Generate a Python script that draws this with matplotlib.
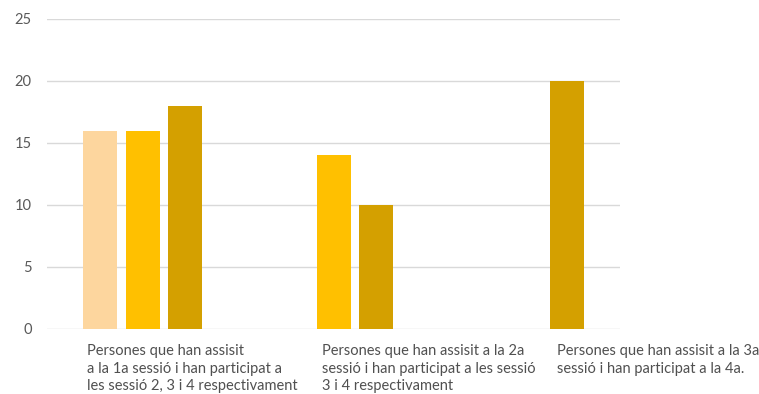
import numpy as np
import matplotlib.pyplot as plt

# data
categories = [
    "Persones que han assisit\na la 1a sessió i han participat a\nles sessió 2, 3 i 4 respectivament",
    "Persones que han assisit a la 2a\nsessió i han participat a les sessió\n3 i 4 respectivament",
    "Persones que han assisit a la 3a\nsessió i han participat a la 4a.",
]
sessio_2 = [16, np.nan, np.nan]
sessio_3 = [16, 14, np.nan]
sessio_4 = [18, 10, 20]

colors = ["#FDD69E", "#FFC000", "#D4A000"]
series = [sessio_2, sessio_3, sessio_4]

fig = plt.figure(figsize=(7.59, 3.94), dpi=100)
ax = fig.add_axes([0.062, 0.165, 0.755, 0.787])

x = np.arange(len(categories))
width = 0.178
step = 0.2225
for i, (vals, c) in enumerate(zip(series, colors)):
    ax.bar(x + (i - 1) * step, vals, width, color=c, zorder=3)

ax.set_xlim(-0.5, 2.5)
ax.set_ylim(0, 25)
ax.set_yticks(range(0, 26, 5))
ax.yaxis.grid(True, color="#D9D9D9", linewidth=1, zorder=0)
for s in ax.spines.values():
    s.set_visible(False)
ax.tick_params(axis="y", length=0, labelsize=10.5, labelcolor="#595959", pad=11)
ax.set_xticks([])
for t in ax.get_yticklabels():
    t.set_fontfamily("Lato")

# category labels under each group
label_offsets = [-0.29, -0.06, 0.17]
for xi, lab, off in zip(x, categories, label_offsets):
    ax.text(xi + off, -0.05, lab, transform=ax.get_xaxis_transform(),
            ha="left", va="top", fontsize=10.5, color="#505050",
            family="Lato", linespacing=1.3)

fig.savefig("out.png", dpi=100)
